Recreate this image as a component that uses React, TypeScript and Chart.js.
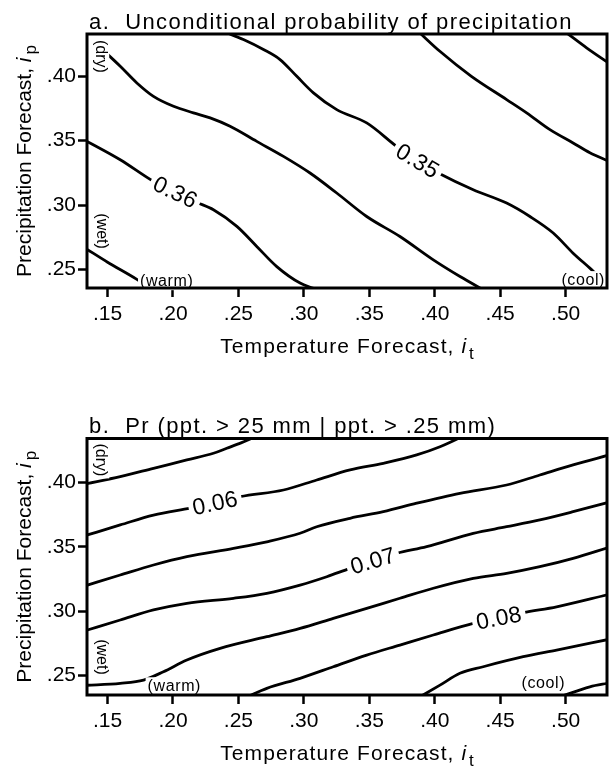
import { useEffect, useRef } from 'react';
import { Chart, registerables } from 'chart.js';

Chart.register(...registerables);

const FONT = '"Liberation Sans", Arial, Helvetica, sans-serif';

// ---- axes ----
const T_TICKS = [0.15, 0.2, 0.25, 0.3, 0.35, 0.4, 0.45, 0.5];
const P_TICKS = [0.25, 0.3, 0.35, 0.4];
const T_RANGE = [0.1343, 0.5316];
const P_RANGE_A = [0.2358, 0.4326];
const P_RANGE_B = [0.2347, 0.4344];

// ---- panel a: unconditional probability of precipitation (contours, [it, ip]) ----
const A_0365 = [[0.133, 0.2666], [0.15, 0.2558], [0.1724, 0.2425], [0.181, 0.2368]];
const A_0360 = [[0.133, 0.3502], [0.1597, 0.3352], [0.1851, 0.3184], [0.2017, 0.3099], [0.2182, 0.3021], [0.2309, 0.2964], [0.2488, 0.2835], [0.264, 0.268], [0.2793, 0.2524], [0.2971, 0.2396], [0.3073, 0.2355], [0.311, 0.234]];
const A_0355 = [[0.144, 0.4225], [0.1597, 0.4076], [0.1724, 0.3947], [0.1851, 0.3843], [0.2004, 0.3766], [0.2156, 0.3715], [0.2284, 0.3676], [0.2436, 0.3611], [0.264, 0.3494], [0.2844, 0.3378], [0.3047, 0.3249], [0.3251, 0.3094], [0.348, 0.2912], [0.3734, 0.2757], [0.3989, 0.2576], [0.4193, 0.2447], [0.4345, 0.2359], [0.437, 0.2345]];
const A_0350 = [[0.24, 0.434], [0.2538, 0.4283], [0.2691, 0.4206], [0.2818, 0.4128], [0.2946, 0.3998], [0.3073, 0.387], [0.3251, 0.374], [0.348, 0.3637], [0.3709, 0.3455], [0.3868, 0.3341], [0.4027, 0.3249], [0.4294, 0.3119], [0.4549, 0.3016], [0.4727, 0.2912], [0.4905, 0.2784], [0.5057, 0.2628], [0.5185, 0.2512], [0.523, 0.247]];
const A_0345 = [[0.388, 0.434], [0.4039, 0.4192], [0.428, 0.3998], [0.4549, 0.3818], [0.4702, 0.3715], [0.488, 0.3585], [0.5057, 0.3482], [0.5185, 0.3406], [0.533, 0.334]];
const A_0340 = [[0.5, 0.434], [0.516, 0.4219], [0.533, 0.41]];

// ---- panel b: Pr(ppt > 25 mm | ppt > .25 mm) ----
const B_055 = [[0.133, 0.399], [0.1597, 0.4047], [0.1851, 0.4112], [0.2106, 0.4177], [0.2309, 0.4229], [0.2411, 0.4268], [0.252, 0.431], [0.2612, 0.435]];
const B_060 = [[0.133, 0.3588], [0.1597, 0.3671], [0.1851, 0.3748], [0.2131, 0.3801], [0.2322, 0.384], [0.2513, 0.3891], [0.2844, 0.3943], [0.3098, 0.4021], [0.3353, 0.4099], [0.3607, 0.4151], [0.3862, 0.4216], [0.404, 0.428], [0.4167, 0.4338], [0.419, 0.435]];
const B_065 = [[0.133, 0.3198], [0.1597, 0.3281], [0.1851, 0.3359], [0.2106, 0.3424], [0.2462, 0.3489], [0.2717, 0.354], [0.2971, 0.3606], [0.3098, 0.3657], [0.3353, 0.3723], [0.3607, 0.3774], [0.3862, 0.384], [0.4192, 0.3917], [0.4549, 0.3982], [0.4803, 0.406], [0.5057, 0.4138], [0.533, 0.4215]];
const B_070 = [[0.133, 0.2848], [0.1597, 0.2931], [0.1851, 0.3009], [0.2106, 0.3061], [0.2462, 0.31], [0.2717, 0.3139], [0.2971, 0.3203], [0.3175, 0.3268], [0.3353, 0.3333], [0.3528, 0.339], [0.3709, 0.345], [0.3938, 0.3502], [0.4294, 0.3606], [0.4549, 0.3657], [0.4803, 0.371], [0.5057, 0.3774], [0.533, 0.3848]];
const B_075 = [[0.133, 0.2422], [0.1597, 0.2438], [0.1775, 0.2463], [0.1927, 0.2528], [0.2106, 0.2619], [0.236, 0.271], [0.2717, 0.2801], [0.2971, 0.2866], [0.3225, 0.2944], [0.348, 0.3022], [0.3734, 0.31], [0.3989, 0.3178], [0.4294, 0.3255], [0.4549, 0.3294], [0.4803, 0.3346], [0.5057, 0.3411], [0.533, 0.3496]];
const B_080 = [[0.257, 0.2335], [0.2717, 0.2399], [0.2971, 0.2477], [0.3225, 0.2567], [0.348, 0.2658], [0.3734, 0.2736], [0.3989, 0.2814], [0.4294, 0.2904], [0.449, 0.2946], [0.4676, 0.2988], [0.4931, 0.3034], [0.533, 0.313]];
const B_085 = [[0.389, 0.2335], [0.404, 0.2424], [0.4192, 0.2516], [0.437, 0.2567], [0.4676, 0.2645], [0.4931, 0.2697], [0.533, 0.278]];
const B_090 = [[0.4965, 0.2335], [0.5185, 0.2411], [0.533, 0.244]];

// ---- text annotations (anchored in data units) ----
const A_CONTOUR_LABELS = [
  { text: '0.36', x: 0.2017, y: 0.3099, angle: 26 },
  { text: '0.35', x: 0.3868, y: 0.3341, angle: 31 },
];
const B_CONTOUR_LABELS = [
  { text: '0.06', x: 0.2322, y: 0.384, angle: -12 },
  { text: '0.07', x: 0.3528, y: 0.339, angle: -16 },
  { text: '0.08', x: 0.449, y: 0.2946, angle: -11 },
];
const A_REGION_LABELS = [
  { text: '(dry)', x: 0.1444, y: 0.4152, angle: 90 },
  { text: '(wet)', x: 0.1452, y: 0.2799, angle: 90 },
  { text: '(warm)', x: 0.1952, y: 0.2411, angle: 0 },
  { text: '(cool)', x: 0.5134, y: 0.2419, angle: 0 },
];
const B_REGION_LABELS = [
  { text: '(dry)', x: 0.1444, y: 0.4177, angle: 90 },
  { text: '(wet)', x: 0.1452, y: 0.2643, angle: 90 },
  { text: '(warm)', x: 0.201, y: 0.2415, angle: 0 },
  { text: '(cool)', x: 0.4829, y: 0.2439, angle: 0 },
];

const TITLE_A = 'a.  Unconditional probability of precipitation';
const TITLE_B = 'b.  Pr (ppt. > 25 mm | ppt. > .25 mm)';
const X_TITLE = 'Temperature Forecast, ';
const Y_TITLE = 'Precipitation Forecast, ';

const PANEL_A = {
  title: TITLE_A,
  lines: [A_0365, A_0360, A_0355, A_0350, A_0345, A_0340],
  yRange: P_RANGE_A,
  contourLabels: A_CONTOUR_LABELS,
  regionLabels: A_REGION_LABELS,
  canvasH: 380,
  padTop: 34,
  xAxisH: 92,
  titleBase: 29,
};
const PANEL_B = {
  title: TITLE_B,
  lines: [B_055, B_060, B_065, B_070, B_075, B_080, B_085, B_090],
  yRange: P_RANGE_B,
  contourLabels: B_CONTOUR_LABELS,
  regionLabels: B_REGION_LABELS,
  canvasH: 386,
  padTop: 58.5,
  xAxisH: 71,
  titleBase: 53,
};

function fmt(v: number) {
  return v.toFixed(2).replace(/^0/, '');
}

function setSpacing(ctx: any, px: number) {
  if ('letterSpacing' in ctx) ctx.letterSpacing = px + 'px';
}

function drawSegments(ctx: any, segs: any[], cx: number, baseY: number) {
  let total = 0;
  for (const s of segs) {
    ctx.font = s.font;
    setSpacing(ctx, s.sp || 0);
    total += ctx.measureText(s.text).width;
  }
  let x = cx - total / 2;
  for (const s of segs) {
    ctx.font = s.font;
    setSpacing(ctx, s.sp || 0);
    ctx.fillText(s.text, x, baseY + (s.dy || 0));
    x += ctx.measureText(s.text).width;
  }
}

function makeDecor(panel: any) {
  return {
    id: 'decor',
    afterDraw(chart: any) {
      const ctx = chart.ctx;
      const { left, right, top, bottom } = chart.chartArea;
      const xs = chart.scales.x;
      const ys = chart.scales.y;
      ctx.save();
      ctx.fillStyle = '#000';

      // contour labels
      for (const l of panel.contourLabels) {
        const px = xs.getPixelForValue(l.x);
        const py = ys.getPixelForValue(l.y);
        ctx.save();
        ctx.translate(px, py);
        ctx.rotate((l.angle * Math.PI) / 180);
        ctx.font = `23px ${FONT}`;
        setSpacing(ctx, 0.3);
        const w = ctx.measureText(l.text).width;
        ctx.fillStyle = '#fff';
        ctx.fillRect(-w / 2 - 4, -11, w + 8, 22);
        ctx.fillStyle = '#000';
        ctx.textAlign = 'center';
        ctx.textBaseline = 'middle';
        ctx.fillText(l.text, 0, 1);
        ctx.restore();
      }

      // region labels
      for (const l of panel.regionLabels) {
        const px = xs.getPixelForValue(l.x);
        const py = ys.getPixelForValue(l.y);
        ctx.save();
        ctx.translate(px, py);
        ctx.rotate((l.angle * Math.PI) / 180);
        ctx.font = `16px ${FONT}`;
        setSpacing(ctx, l.angle ? 0 : 0.6);
        const w = ctx.measureText(l.text).width;
        ctx.fillStyle = '#fff';
        ctx.fillRect(-w / 2 - 2, -9, w + 4, 18);
        ctx.fillStyle = '#000';
        ctx.textAlign = 'center';
        ctx.textBaseline = 'middle';
        ctx.fillText(l.text, 0, 0);
        ctx.restore();
      }

      // frame
      ctx.lineWidth = 3;
      ctx.strokeStyle = '#000';
      ctx.strokeRect(left, top, right - left, bottom - top);

      // panel title
      ctx.font = `22px ${FONT}`;
      setSpacing(ctx, 1.4);
      ctx.textAlign = 'left';
      ctx.textBaseline = 'alphabetic';
      ctx.fillText(panel.title, 89, panel.titleBase);

      // x-axis title
      drawSegments(
        ctx,
        [
          { text: X_TITLE, font: `21px ${FONT}`, sp: 1.1 },
          { text: 'i', font: `italic 21px ${FONT}`, sp: 3 },
          { text: 't', font: `17px ${FONT}`, dy: 6 },
        ],
        (left + right) / 2,
        bottom + 65
      );

      // y-axis title
      ctx.save();
      ctx.translate(31, (top + bottom) / 2);
      ctx.rotate(-Math.PI / 2);
      drawSegments(
        ctx,
        [
          { text: Y_TITLE, font: `21px ${FONT}`, sp: 0 },
          { text: 'i', font: `italic 21px ${FONT}`, sp: 3 },
          { text: 'p', font: `17px ${FONT}`, dy: 5 },
        ],
        0,
        0
      );
      ctx.restore();
      ctx.restore();
    },
  };
}

function makeChart(canvas: HTMLCanvasElement, panel: any) {
  const datasets = panel.lines.map((line: number[][]) => ({
    data: line.map(([x, y]) => ({ x, y })),
    borderColor: '#000',
    borderWidth: 2.8,
    pointRadius: 0,
    fill: false,
    showLine: true,
    cubicInterpolationMode: 'monotone',
    clip: 0,
  }));
  const tickFont = { family: FONT, size: 21 };
  return new Chart(canvas, {
    type: 'line',
    data: { datasets },
    options: {
      animation: false,
      responsive: false,
      devicePixelRatio: 1,
      events: [],
      layout: { padding: { left: 0, right: 3, top: panel.padTop, bottom: 0 } },
      plugins: { legend: { display: false }, tooltip: { enabled: false }, title: { display: false } },
      scales: {
        x: {
          type: 'linear',
          min: T_RANGE[0],
          max: T_RANGE[1],
          afterBuildTicks: (s: any) => {
            s.ticks = T_TICKS.map((v) => ({ value: v }));
          },
          afterFit: (s: any) => {
            s.height = panel.xAxisH;
          },
          ticks: { font: tickFont, color: '#000', padding: 5, maxRotation: 0, autoSkip: false, callback: (v: any) => fmt(Number(v)) },
          grid: { display: true, drawOnChartArea: false, drawTicks: true, tickLength: 9, tickWidth: 2.5, color: '#000' },
          border: { display: false },
        },
        y: {
          type: 'linear',
          min: panel.yRange[0],
          max: panel.yRange[1],
          afterBuildTicks: (s: any) => {
            s.ticks = P_TICKS.map((v) => ({ value: v }));
          },
          afterFit: (s: any) => {
            s.width = 87;
          },
          ticks: { font: tickFont, color: '#000', padding: 2, autoSkip: false, callback: (v: any) => fmt(Number(v)) },
          grid: { display: true, drawOnChartArea: false, drawTicks: true, tickLength: 9, tickWidth: 2.5, color: '#000' },
          border: { display: false },
        },
      },
    } as any,
    plugins: [makeDecor(panel)],
  });
}

export default function App() {
  const refA = useRef<HTMLCanvasElement>(null);
  const refB = useRef<HTMLCanvasElement>(null);
  useEffect(() => {
    const a = makeChart(refA.current!, PANEL_A);
    const b = makeChart(refB.current!, PANEL_B);
    return () => {
      a.destroy();
      b.destroy();
    };
  }, []);
  return (
    <div style={{ position: 'absolute', left: 0, top: 0, width: 610, height: 766, background: '#fff' }}>
      <canvas ref={refA} width={610} height={380} style={{ position: 'absolute', left: 0, top: 0 }} />
      <canvas ref={refB} width={610} height={386} style={{ position: 'absolute', left: 0, top: 380 }} />
    </div>
  );
}
